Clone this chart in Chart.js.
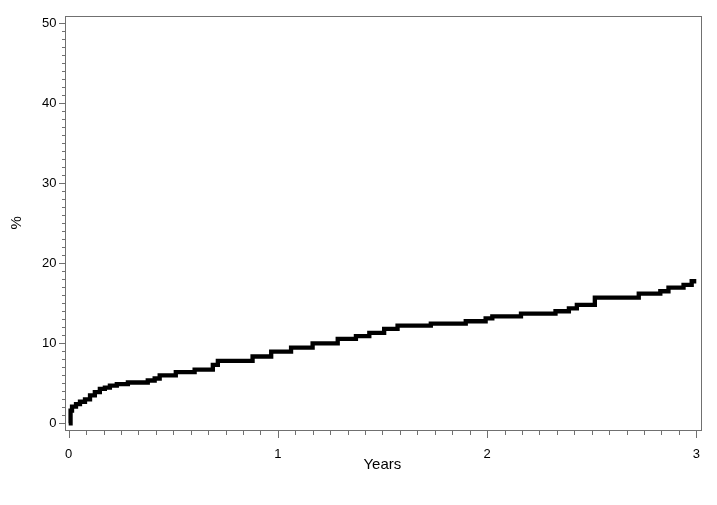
<!DOCTYPE html>
<html>
<head>
<meta charset="utf-8">
<script src="https://cdn.jsdelivr.net/npm/chart.js@4/dist/chart.umd.min.js"></script>
<style>
  html, body { margin: 0; padding: 0; background: #ffffff; }
  #wrap { width: 717px; height: 505px; position: relative; }
</style>
</head>
<body>
<div id="wrap"><canvas id="c"></canvas></div>
<script>
// Step times (years) and cumulative percentage after each step
const years = [0, 0.009, 0.016, 0.035, 0.054, 0.078, 0.102, 0.125, 0.149, 0.173, 0.197, 0.230, 0.283, 0.378, 0.411, 0.435, 0.512, 0.602, 0.689, 0.713, 0.879, 0.968, 1.063, 1.166, 1.286, 1.373, 1.437, 1.508, 1.572, 1.731, 1.898, 1.993, 2.025, 2.162, 2.327, 2.391, 2.429, 2.515, 2.725, 2.828, 2.867, 2.939, 2.978, 3.0];
const pct   = [0, 1.6, 2.1, 2.4, 2.7, 3.0, 3.5, 3.9, 4.3, 4.45, 4.7, 4.9, 5.1, 5.35, 5.6, 6.0, 6.4, 6.7, 7.3, 7.8, 8.35, 8.95, 9.45, 10.0, 10.55, 10.9, 11.3, 11.8, 12.2, 12.45, 12.75, 13.1, 13.35, 13.7, 14.0, 14.35, 14.8, 15.7, 16.2, 16.5, 16.95, 17.3, 17.75, 17.75];

const xTickValues = [0, 1, 2, 3];
const yTickValues = [0, 10, 20, 30, 40, 50];
const xMinorStep = 1 / 12;
const yMinorStep = 1;
const xTitle = 'Years';
const yTitle = '%';

const points = years.map((x, i) => ({ x: x, y: pct[i] }));

const axisColor = '#707070';
const framePlugin = {
  id: 'frameTicks',
  afterDraw(chart) {
    const ctx = chart.ctx;
    const a = chart.chartArea;
    const xs = chart.scales.x, ys = chart.scales.y;
    ctx.save();
    ctx.strokeStyle = axisColor;
    ctx.lineWidth = 1;
    ctx.strokeRect(Math.round(a.left) + 0.5, Math.round(a.top) + 0.5,
                   Math.round(a.right - a.left), Math.round(a.bottom - a.top));
    ctx.beginPath();
    // y ticks
    const y0 = yTickValues[0], y1 = yTickValues[yTickValues.length - 1];
    for (let v = y0; v <= y1 + 1e-9; v += yMinorStep) {
      const py = Math.round(ys.getPixelForValue(v)) + 0.5;
      const major = yTickValues.some(t => Math.abs(t - v) < 1e-6);
      const len = major ? 6 : 3;
      ctx.moveTo(Math.round(a.left), py);
      ctx.lineTo(Math.round(a.left) - len, py);
    }
    // x ticks
    const x0 = xTickValues[0], x1 = xTickValues[xTickValues.length - 1];
    const n = Math.round((x1 - x0) / xMinorStep);
    for (let i = 0; i <= n; i++) {
      const v = x0 + i * xMinorStep;
      const px = Math.round(xs.getPixelForValue(v)) + 0.5;
      const major = xTickValues.some(t => Math.abs(t - v) < 1e-6);
      const len = major ? 7 : 4;
      ctx.moveTo(px, Math.round(a.bottom) + 1);
      ctx.lineTo(px, Math.round(a.bottom) + 1 + len);
    }
    ctx.stroke();
    ctx.restore();
  }
};

const font = { family: "'Liberation Sans', Arial, Helvetica, sans-serif", size: 13 };
const titleFont = { family: "'Liberation Sans', Arial, Helvetica, sans-serif", size: 15 };

new Chart(document.getElementById('c'), {
  type: 'line',
  data: {
    datasets: [{
      data: points,
      borderColor: '#000000',
      borderWidth: 4.3,
      borderJoinStyle: 'miter',
      borderCapStyle: 'butt',
      stepped: 'before',
      pointRadius: 0,
      fill: false
    }]
  },
  options: {
    responsive: true,
    maintainAspectRatio: false,
    animation: false,
    events: [],
    layout: { padding: { top: 11, right: 15, left: 0, bottom: 0 } },
    plugins: { legend: { display: false }, tooltip: { enabled: false } },
    scales: {
      x: {
        type: 'linear',
        min: -0.02,
        max: 3.019,
        afterBuildTicks: (s) => { s.ticks = xTickValues.map(v => ({ value: v })); },
        afterFit: (s) => { s.height = 75; },
        grid: { display: false, drawTicks: false },
        border: { display: false },
        ticks: { color: '#000', font: font, padding: 17, maxRotation: 0, autoSkip: false },
        title: { display: true, text: xTitle, color: '#000', font: titleFont, padding: { top: 0, bottom: 31 } }
      },
      y: {
        type: 'linear',
        min: -0.83,
        max: 50.9,
        afterBuildTicks: (s) => { s.ticks = yTickValues.map(v => ({ value: v })); },
        afterFit: (s) => { s.width = 64.5; },
        grid: { display: false, drawTicks: false },
        border: { display: false },
        ticks: { color: '#000', font: font, padding: 8, autoSkip: false },
        title: { display: true, text: yTitle, color: '#000', font: titleFont, padding: { top: 7.5, bottom: 0 } }
      }
    }
  },
  plugins: [framePlugin]
});
</script>
</body>
</html>
